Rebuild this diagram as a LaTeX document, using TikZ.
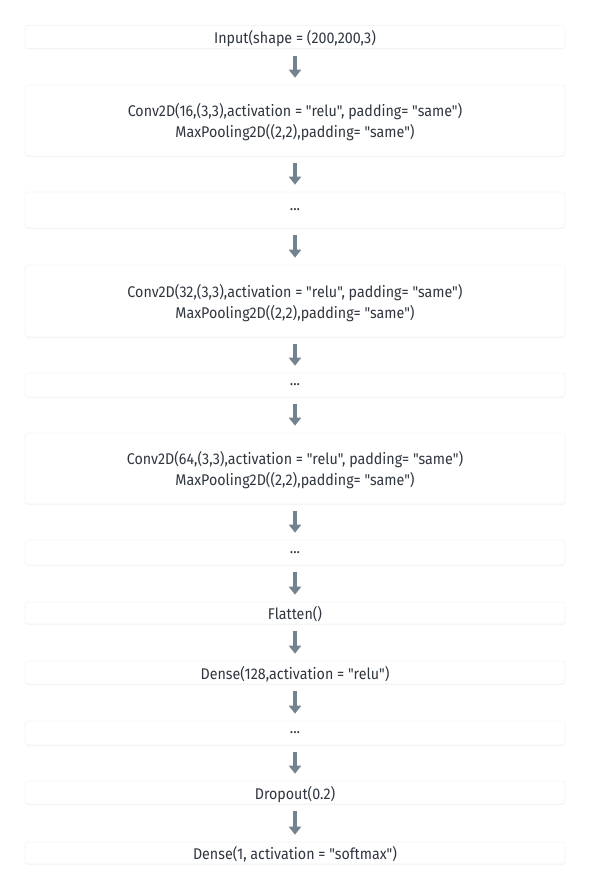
\documentclass[tikz,border=0pt]{standalone}
\usepackage{fontspec}
\setmainfont[FakeStretch=0.92,Ligatures=TeXOff]{Fira Sans}
\usetikzlibrary{arrows.meta,shadows}
\definecolor{arrowgray}{HTML}{74828F}
\definecolor{textgray}{HTML}{30363F}
\definecolor{edgegray}{HTML}{F3F4F5}
\tikzset{
  layer/.style={rectangle,rounded corners=3pt,fill=white,draw=edgegray,line width=0.6pt,
    minimum width=540pt,align=center,text=textgray,inner sep=0pt,text depth=0pt,
    font=\fontsize{15.5}{21}\selectfont,
    drop shadow={shadow xshift=0pt,shadow yshift=-1pt,opacity=0.04,fill=black}},
  flow/.style={-{Triangle[width=12pt,length=8pt]},draw=arrowgray,line width=4pt,
    shorten <=7pt,shorten >=7pt}
}
\begin{document}
\begin{tikzpicture}[x=1pt,y=-1pt]
  \useasboundingbox (0,0) rectangle (590,890);

  % layers
  \node[layer,minimum height=23pt] (inp) at (295,37) {Input(shape = (200,200,3)};
  \node[layer,minimum height=71pt] (convA) at (295,120.5)
    {Conv2D(16,(3,3),activation = "relu", padding= "same")\\MaxPooling2D((2,2),padding= "same")};
  \node[layer,minimum height=36pt] (dotsA) at (295,210) {...};
  \node[layer,minimum height=72pt] (convB) at (295,301)
    {Conv2D(32,(3,3),activation = "relu", padding= "same")\\MaxPooling2D((2,2),padding= "same")};
  \node[layer,minimum height=24pt] (dotsB) at (295,385) {...};
  \node[layer,minimum height=71pt] (convC) at (295,468.5)
    {Conv2D(64,(3,3),activation = "relu", padding= "same")\\MaxPooling2D((2,2),padding= "same")};
  \node[layer,minimum height=25pt] (dotsC) at (295,552.5) {...};
  \node[layer,minimum height=22pt] (flat) at (295,613) {Flatten()};
  \node[layer,minimum height=23pt] (denseA) at (295,672.5) {Dense(128,activation = "relu")};
  \node[layer,minimum height=24pt] (dotsD) at (295,733) {...};
  \node[layer,minimum height=23pt] (drop) at (295,792.5) {Dropout(0.2)};
  \node[layer,minimum height=22pt] (denseB) at (295,853) {Dense(1, activation = "softmax")};

  % arrows
  \foreach \a/\b in {inp/convA,convA/dotsA,dotsA/convB,convB/dotsB,dotsB/convC,convC/dotsC,
                     dotsC/flat,flat/denseA,denseA/dotsD,dotsD/drop,drop/denseB}
    \draw[flow] (\a.south) -- (\b.north);
\end{tikzpicture}
\end{document}
